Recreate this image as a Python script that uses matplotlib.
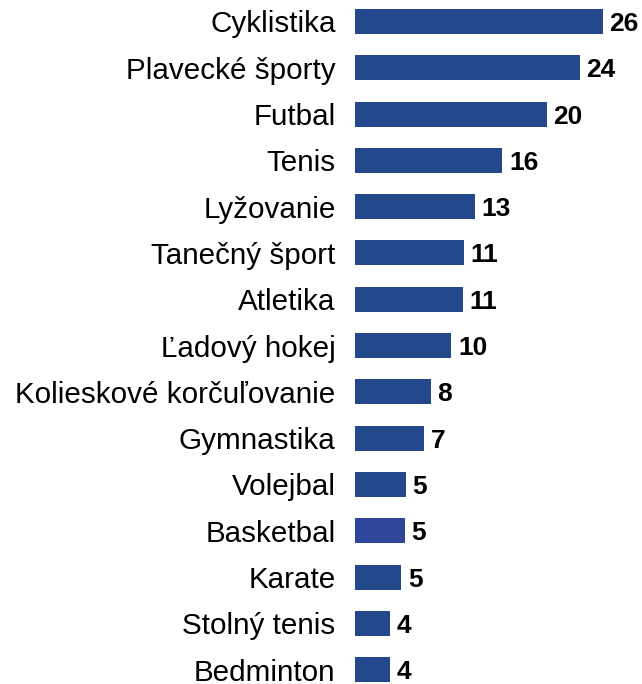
import matplotlib.pyplot as plt

sports = ['Cyklistika', 'Plavecké športy', 'Futbal', 'Tenis', 'Lyžovanie',
          'Tanečný šport', 'Atletika', 'Ľadový hokej', 'Kolieskové korčuľovanie',
          'Gymnastika', 'Volejbal', 'Basketbal', 'Karate', 'Stolný tenis', 'Bedminton']
# bar lengths, labels are the rounded values
values = [26.2, 23.8, 20.3, 15.6, 12.7, 11.5, 11.4, 10.2, 8.0, 7.3, 5.4, 5.3, 4.9, 3.7, 3.7]
labels = ['26', '24', '20', '16', '13', '11', '11', '10', '8', '7', '5', '5', '5', '4', '4']

plt.rcParams['font.family'] = ['Liberation Sans', 'DejaVu Sans']

fig = plt.figure(figsize=(6.42, 6.84), dpi=100)
ax = fig.add_axes([355 / 642, 0, 287 / 642, 1])

colors = ['#22488b'] * len(sports)
colors[sports.index('Basketbal')] = '#30469b'

y = list(range(len(sports)))
ax.barh(y, values, height=0.54, color=colors)
for yi, v, lab in zip(y, values, labels):
    ax.text(v + 0.7, yi, lab, va='center_baseline', ha='left', fontsize=19, fontweight='bold')

ax.set_xlim(0, 287 / 9.45)
ax.set_ylim(14.31, -0.464)
ax.set_yticks(y)
ax.set_yticklabels(sports, fontsize=21.3)
for t in ax.get_yticklabels():
    t.set_va('center_baseline')
ax.tick_params(axis='y', length=0, pad=14)
ax.set_xticks([])
for s in ax.spines.values():
    s.set_visible(False)

fig.savefig('out.png', dpi=100)
